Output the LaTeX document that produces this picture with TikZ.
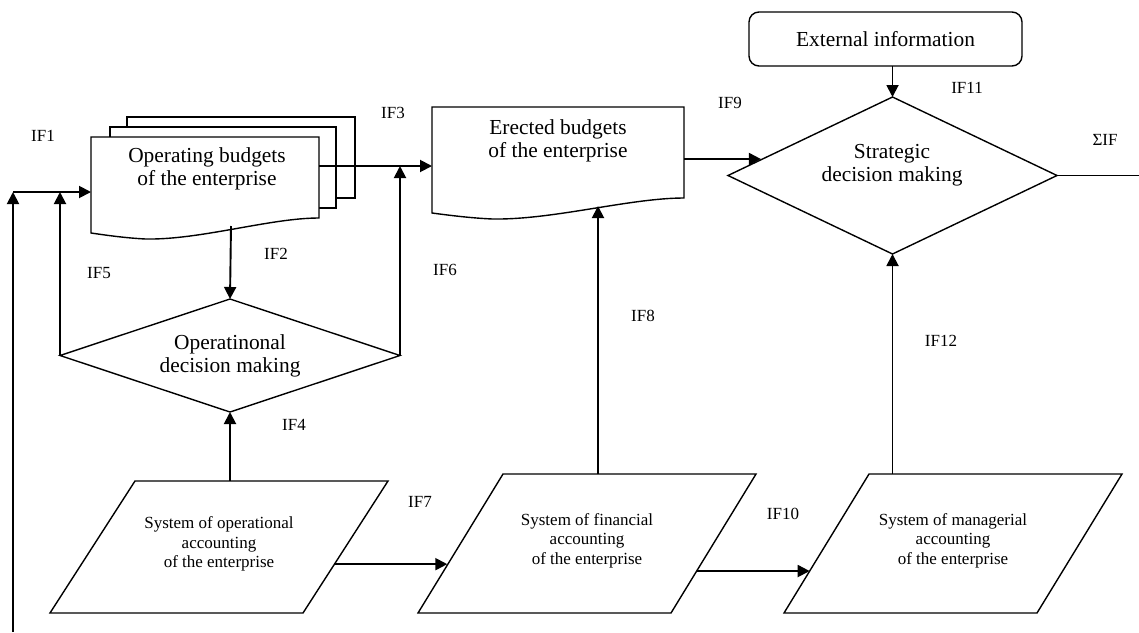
\documentclass[tikz,border=0pt]{standalone}
\usepackage{fontspec}
\setmainfont{Liberation Serif}
\usetikzlibrary{arrows.meta,calc,shapes.geometric}
\newcommand\BudgetSheet[5]{%
    \draw[shapeline,fill=white] (#2,#3) coordinate(#1NW) -- (#4,#3) -- (#4,#5) coordinate(#1SE)
        .. controls ({#2+0.785*(#4-#2)},#5) and ({#2+0.48*(#4-#2)},#5+22) .. ({#2+0.24*(#4-#2)},#5+21)
        .. controls ({#2+0.15*(#4-#2)},#5+20) and ({#2+0.06*(#4-#2)},#5+17) .. (#2,#5+15) -- cycle;
}
\newcommand\SheetLayer[4]{%
    \draw[shapeline,fill=white] (#1,#2) rectangle (#3,#4);
}
\newcommand\AccountBox[4]{%
    \draw[shapeline] (#2,#3) coordinate(#1TL) -- ++(253,0) coordinate(#1TR) -- (#2+168,613) coordinate(#1BR)
        -- (#2-85,613) coordinate(#1BL) -- cycle;
    \node[smalltext] (#1) at ($(#1TL)!0.5!(#1BR)+(0,-3)$) {#4};
}

\begin{document}
\begin{tikzpicture}[x=0.5pt,y=-0.5pt,
    shapeline/.style={line width=0.7pt},
    flowarrow/.style={line width=0.95pt,-{Triangle[length=6pt,width=6pt]}},
    bigtext/.style={align=center,font=\fontsize{10.7}{11.5}\selectfont},
    smalltext/.style={align=center,font=\fontsize{8.5}{9.8}\selectfont},
    iflabel/.style={font=\fontsize{8.5}{10}\selectfont},
    decision/.style={diamond,draw,line width=0.7pt,inner sep=0pt,outer sep=0pt}]
    \useasboundingbox (0,0) rectangle (1139,632);
    % budgets
    \SheetLayer{127}{117}{355}{198}
    \SheetLayer{110}{127}{336}{208}
    \BudgetSheet{OpSheet}{91}{137}{319}{218}
    \node[bigtext] (OpBudgets) at (207,168.5) {Operating budgets\\of the enterprise};
    \BudgetSheet{ErSheet}{432}{107}{684}{198}
    \node[bigtext] (ErBudgets) at (558,140.5) {Erected budgets\\of the enterprise};
    % decisions
    \node[decision,bigtext,aspect=3,minimum width=170pt,minimum height=56.5pt] (OpDecision) at (230,355.5) {Operatinonal\\decision making};
    \node[decision,minimum width=164.5pt,minimum height=78.5pt] (StratDecision) at (892.5,175.5) {};
    \node[bigtext] (StratText) at (892,165) {Strategic\\decision making};
    \node[draw,shapeline,rounded corners=5pt,outer sep=0pt,minimum width=136.5pt,minimum height=27pt,bigtext] (ExtInfo) at (885.5,39) {External information};
    % accounting
    \AccountBox{OpAccount}{135}{481}{System of operational\\accounting\\of the enterprise}
    \AccountBox{FinAccount}{503}{474}{System of financial\\accounting\\of the enterprise}
    \AccountBox{MgrAccount}{869}{474}{System of managerial\\accounting\\of the enterprise}

    \coordinate (LoopStart) at (13,632);
    \coordinate (LoopCorner) at (13,192);
    \coordinate (OpSheetOut) at (231,226);
    \coordinate (OpSheetRight) at (319,166);
    \coordinate (ErSheetIn) at (598,206);
    \coordinate (ErSheetRight) at (684,159);
    \coordinate (StratIn) at ($(StratDecision.west)!0.2!(StratDecision.north)$);
    \coordinate (SumOut) at (1139,175.5);
    \coordinate (OpAccountOut) at ($(OpAccountTR)!0.63!(OpAccountBR)$);
    \coordinate (FinAccountIn) at ($(FinAccountTL)!0.655!(FinAccountBL)$);
    \coordinate (FinAccountOut) at ($(FinAccountTR)!0.698!(FinAccountBR)$);
    \coordinate (MgrAccountIn) at ($(MgrAccountTL)!0.698!(MgrAccountBL)$);

    \draw[flowarrow] (LoopStart) -- (LoopCorner);
    \draw[flowarrow] (LoopCorner) -- (LoopCorner -| OpSheetNW);
    \draw[flowarrow] (OpDecision.west) -- (OpDecision.west |- LoopCorner);
    \draw[flowarrow] (OpSheetOut) -- (OpDecision.north);
    \draw[flowarrow] (OpDecision.south |- OpAccountTL) -- (OpDecision.south);
    \draw[flowarrow] (OpDecision.east) -- (OpDecision.east |- OpSheetRight);
    \draw[flowarrow] (OpSheetRight) -- (OpSheetRight -| ErSheetNW);
    \draw[flowarrow] (OpAccountOut) -- (OpAccountOut -| FinAccountIn);
    \draw[flowarrow] (ErSheetIn |- FinAccountTL) -- (ErSheetIn);
    \draw[flowarrow] (FinAccountOut) -- (FinAccountOut -| MgrAccountIn);
    \draw[flowarrow] (ErSheetRight) -- (ErSheetRight -| StratIn);
    \draw[flowarrow] (StratDecision.north |- ExtInfo.south) -- (StratDecision.north);
    \draw[flowarrow] (StratDecision.south |- MgrAccountTL) -- (StratDecision.south);
    \draw[line width=0.95pt] (StratDecision.east) -- (SumOut);

    \foreach \n/\x/\y in {1/43/136, 2/276/254, 3/393/113, 4/294/425, 5/99/273, 6/445/270,
        7/420/502, 8/643/316, 9/730/103, 10/783/514, 11/967/88, 12/941/341}
        \node[iflabel] (IF\n) at (\x,\y) {IF\n};
    \node[iflabel] (SumIF) at (1105,140) {ΣIF};
\end{tikzpicture}
\end{document}
